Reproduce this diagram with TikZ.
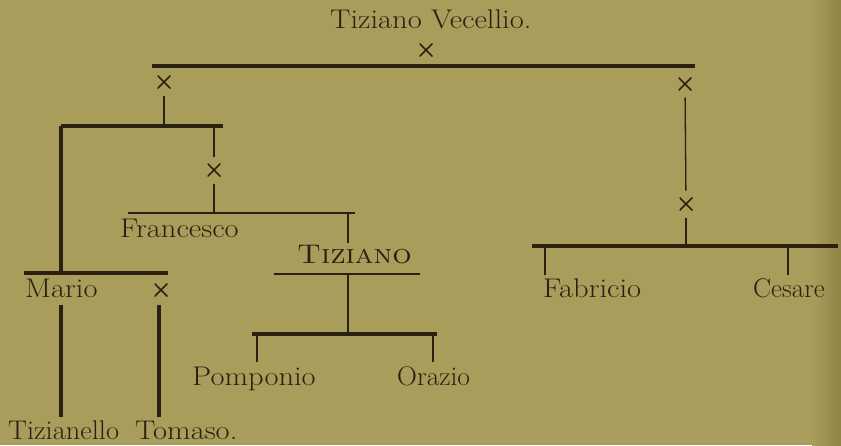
\documentclass[tikz,border=0pt]{standalone}
\usetikzlibrary{calc}
\definecolor{bg}{HTML}{A89D5B}
\definecolor{bgdark}{HTML}{8E8446}
\definecolor{ink}{HTML}{2B2111}
\newcommand{\widetxt}[2][1.13]{\scalebox{#1}[1]{#2}}
\begin{document}
\begin{tikzpicture}[x=1pt,y=-1pt,
  thickline/.style={ink, line width=3.5pt},
  thinline/.style={ink, line width=1.3pt},
  lbl/.style={inner sep=0pt, anchor=base west, text=ink, font=\fontsize{27}{30}\selectfont},
  xmk/.style={minimum size=13pt, inner sep=0pt, outer sep=7pt,
    path picture={\draw[ink, line width=1.6pt]
      (path picture bounding box.north west) -- (path picture bounding box.south east)
      (path picture bounding box.north east) -- (path picture bounding box.south west);}},
]
\fill[bg] (0,0) rectangle (841,445);
\shade[left color=bg, right color=bgdark] (812,0) rectangle (841,445);
\useasboundingbox (0,0) rectangle (841,445);

% title and top bar
\node[lbl] (title) at (330,28) {\widetxt{Tiziano Vecellio.}};
\node[xmk] (x0) at (426,50) {};
\coordinate (tbL) at (152,66);
\coordinate (tbR) at (695,66);
\draw[thickline] (tbL) -- (tbR);

% left branch
\node[xmk] (xL) at (164,82) {};
\coordinate (lbL) at (61,126);
\coordinate (lbR) at (223,126);
\draw[thickline] (lbL) -- (lbR);
\draw[thinline] (xL) -- (xL |- lbL);

% Francesco branch
\node[xmk] (xF) at (214,170) {};
\draw[thinline] (xF |- lbL) -- (xF);
\coordinate (frL) at (128,213);
\coordinate (frR) at (355,213);
\draw[thinline] (frL) -- (frR);
\draw[thinline] (xF) -- (xF |- frL);
\node[lbl] (fra) at (120,237) {\widetxt{Francesco}};

% Tiziano (son)
\coordinate (tzA) at (348,213);
\coordinate (tzB) at (348,243);
\draw[thinline] (tzA) -- (tzB);
\node[lbl] (tiz) at (297,263) {\widetxt{\textsc{Tiziano}}};
\coordinate (tuL) at (274,274);
\coordinate (tuR) at (420,274);
\draw[thinline] (tuL) -- (tuR);
\coordinate (pbL) at (252,334);
\coordinate (pbR) at (437,334);
\draw[thinline] (tuL -| tzA) -- (pbL -| tzA);
\draw[thickline] (pbL) -- (pbR);
\node[lbl] (pom) at (192,385) {\widetxt{Pomponio}};
\node[lbl] (ora) at (397,385) {\widetxt[1.02]{Orazio}};
\coordinate (pomT) at (257,362);
\coordinate (oraT) at (433,362);
\draw[thinline] (pbL -| pomT) -- (pomT);
\draw[thinline] (pbL -| oraT) -- (oraT);

% Mario branch
\coordinate (mbL) at (24,273);
\coordinate (mbR) at (168,273);
\draw[thickline] (lbL) -- (lbL |- mbL);
\draw[thickline] (mbL) -- (mbR);
\node[lbl] (mar) at (25,297) {\widetxt{Mario}};
\node[xmk] (xM) at (161,290) {};
\node[lbl] (tzl) at (8,439) {\widetxt[1.05]{Tizianello}};
\node[lbl] (tom) at (135,439) {\widetxt{Tomaso.}};
\coordinate (mvT) at (61,305);
\coordinate (mvB) at (61,417);
\draw[thickline] (mvT) -- (mvB);
\coordinate (tvT) at (159,305);
\coordinate (tvB) at (159,417);
\draw[thickline] (tvT) -- (tvB);

% right branch
\node[xmk] (xR) at (685,84) {};
\node[xmk] (xR2) at (686,204) {};
\draw[thinline] (xR) -- (xR2);
\coordinate (rbL) at (532,246);
\coordinate (rbR) at (838,246);
\draw[thinline] (xR2) -- (xR2 |- rbL);
\draw[thickline] (rbL) -- (rbR);
\node[lbl] (fab) at (543,297) {\widetxt{Fabricio}};
\node[lbl] (ces) at (753,297) {\widetxt[1.0]{Cesare}};
\coordinate (fabT) at (545,275);
\coordinate (cesT) at (788,275);
\draw[thinline] (rbL -| fabT) -- (fabT);
\draw[thinline] (rbL -| cesT) -- (cesT);
\end{tikzpicture}
\end{document}
